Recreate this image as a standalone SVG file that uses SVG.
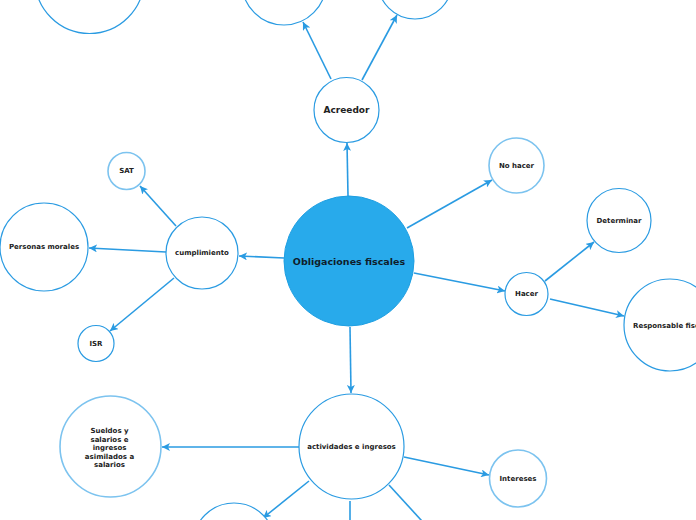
<svg xmlns="http://www.w3.org/2000/svg" width="696" height="520" viewBox="0 0 696 520">
<defs>
<style>
.n{fill:#fff;stroke:#2a9be2;stroke-width:1.2}
.l{fill:#fff;stroke:#7cc3ef;stroke-width:1.6}
.t{font-family:"DejaVu Sans","Verdana",sans-serif;font-weight:bold;font-size:7px;fill:#222;text-anchor:middle;dominant-baseline:central}
.c line{stroke:#2a9be2;stroke-width:1.6;marker-end:url(#ah)}
.c line.nm{marker-end:none}
</style>
<marker id="ah" markerUnits="userSpaceOnUse" markerWidth="9" markerHeight="8" refX="8" refY="4" orient="auto">
<path d="M0,0 L8,4 L0,8 L2,4 z" fill="#2a9be2"/>
</marker>
</defs>
<rect width="696" height="520" fill="#fff"/>
<g class="c" id="connectors">
<line x1="348" y1="196" x2="347" y2="143"/>
<line x1="331" y1="79" x2="303" y2="22"/>
<line x1="362" y1="80" x2="397" y2="15"/>
<line x1="407" y1="228" x2="492" y2="180"/>
<line x1="414" y1="273" x2="505" y2="291"/>
<line x1="545" y1="281" x2="594" y2="242"/>
<line x1="550" y1="299" x2="624" y2="316"/>
<line x1="284" y1="258" x2="239" y2="256"/>
<line x1="176" y1="226" x2="140" y2="186"/>
<line x1="166" y1="252" x2="89" y2="248"/>
<line x1="174" y1="278" x2="110" y2="331"/>
<line x1="350" y1="327" x2="351" y2="393"/>
<line x1="299" y1="447" x2="162" y2="447"/>
<line x1="404" y1="457" x2="489" y2="475"/>
<line x1="309" y1="481" x2="263" y2="518"/>
<line class="nm" x1="350" y1="501" x2="350" y2="525"/>
<line class="nm" x1="389" y1="485" x2="432" y2="532"/>
</g>
<g id="top-left"><circle class="n" cx="89.5" cy="-21" r="54.5"/></g>
<g id="top-mid"><circle class="n" cx="284" cy="-17" r="42"/></g>
<g id="top-right"><circle class="n" cx="415" cy="-18" r="37"/></g>
<g id="center"><circle cx="349" cy="261" r="65" fill="#28aaeb" stroke="#1f9fe2" stroke-width="1"/><text class="t" x="349" y="261" style="font-size:9.5px;fill:#0f1e2b">Obligaciones fiscales</text></g>
<g id="acreedor"><circle class="n" cx="346.5" cy="110" r="32.5"/><text class="t" x="346.5" y="110" style="font-size:9px">Acreedor</text></g>
<g id="cumplimiento"><circle class="n" cx="202" cy="253" r="36"/><text class="t" x="202" y="253">cumplimiento</text></g>
<g id="sat"><circle class="l" cx="126.5" cy="171" r="18.5"/><text class="t" x="126.5" y="171">SAT</text></g>
<g id="personas"><circle class="n" cx="44" cy="247" r="44"/><text class="t" x="44" y="247">Personas morales</text></g>
<g id="isr"><circle class="n" cx="96" cy="343.5" r="18"/><text class="t" x="96" y="344">ISR</text></g>
<g id="nohacer"><circle class="l" cx="516.5" cy="165.5" r="27.5"/><text class="t" x="516.5" y="166">No hacer</text></g>
<g id="hacer"><circle class="n" cx="526.5" cy="294" r="21.5"/><text class="t" x="526.5" y="294">Hacer</text></g>
<g id="determinar"><circle class="n" cx="619" cy="220.5" r="32"/><text class="t" x="619" y="221">Determinar</text></g>
<g id="responsable"><circle class="n" cx="670" cy="325" r="46"/><text class="t" x="633" y="325.5" style="text-anchor:start">Responsable fiscal</text></g>
<g id="actividades"><circle class="n" cx="351.5" cy="446.5" r="52.5"/><text class="t" x="351.5" y="447">actividades e ingresos</text></g>
<g id="sueldos"><circle class="l" cx="110.5" cy="446.5" r="50.5"/><text class="t" x="109.5"><tspan x="109.5" y="431">Sueldos y</tspan><tspan x="109.5" y="439.5">salarios e</tspan><tspan x="109.5" y="448">ingresos</tspan><tspan x="109.5" y="456.5">asimilados a</tspan><tspan x="109.5" y="465">salarios</tspan></text></g>
<g id="intereses"><circle class="l" cx="518" cy="478.5" r="28.5"/><text class="t" x="518" y="479">Intereses</text></g>
<g id="bottom-left"><circle class="n" cx="234" cy="544" r="41"/></g>
</svg>
